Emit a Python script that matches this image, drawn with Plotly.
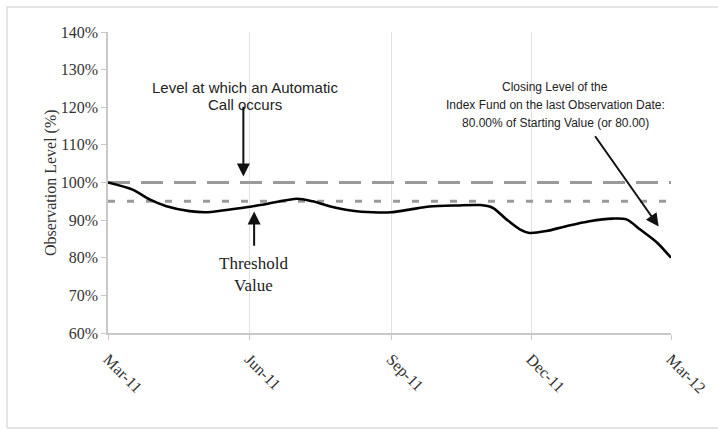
import plotly.graph_objects as go

# Index fund observation level, % of starting value
obs_dates = [
    "2011-03-01", "2011-03-17", "2011-03-28", "2011-04-08", "2011-04-23",
    "2011-05-04", "2011-05-13", "2011-05-30", "2011-06-12", "2011-07-02",
    "2011-07-12", "2011-07-23", "2011-08-07", "2011-08-20", "2011-09-01",
    "2011-09-13", "2011-09-26", "2011-10-14", "2011-10-29", "2011-11-06",
    "2011-11-15", "2011-11-24", "2011-11-30", "2011-12-11", "2011-12-24",
    "2012-01-08", "2012-01-23", "2012-02-01", "2012-02-10", "2012-02-21",
    "2012-03-01",
]
obs_level = [
    100.0, 98.1, 95.5, 93.7, 92.4,
    92.1, 92.5, 93.4, 94.3, 95.7,
    95.0, 93.7, 92.5, 92.1, 92.1,
    92.8, 93.6, 93.9, 94.0, 93.3,
    90.2, 87.5, 86.6, 87.1, 88.4,
    89.7, 90.4, 90.2, 87.5, 84.0,
    80.0,
]

autocall_level = 100
threshold_level = 95

tick_dates = ["2011-03-01", "2011-06-01", "2011-09-01", "2011-12-01", "2012-03-01"]
tick_labels = ["Mar-11", "Jun-11", "Sep-11", "Dec-11", "Mar-12"]
y_ticks = [60, 70, 80, 90, 100, 110, 120, 130, 140]
y_tick_labels = [f"{v}%" for v in y_ticks]

SANS = "Liberation Sans, Arial, sans-serif"
SERIF = "Liberation Serif, Times New Roman, serif"
GRID = "#e2e2e2"
AXIS = "#c8c8c8"
TEXT = "#222222"

W, H = 718, 431
ML, MR, MT, MB = 108, 47, 32, 98
PW, PH = W - ML - MR, H - MT - MB


def px_to_paper(px, py):
    return (px - ML) / PW, (H - MB - py) / PH


start, end = obs_dates[0], obs_dates[-1]

fig = go.Figure()
fig.add_trace(go.Scatter(
    x=[start, end], y=[autocall_level, autocall_level], mode="lines",
    line=dict(color="#9a9a9a", width=3, dash="22px,11px"), hoverinfo="skip"))
fig.add_trace(go.Scatter(
    x=[start, end], y=[threshold_level, threshold_level], mode="lines",
    line=dict(color="#9a9a9a", width=3, dash="7px,12px"), hoverinfo="skip"))
fig.add_trace(go.Scatter(
    x=obs_dates, y=obs_level, mode="lines",
    line=dict(color="#000000", width=2.6, shape="spline", smoothing=0.8)))

ann = []


def text_lines(lines, cx, ys, family, size):
    # one annotation per line so the line spacing can be set freely
    for line, py in zip(lines, ys):
        px_, py_ = px_to_paper(cx, py)
        ann.append(dict(x=px_, y=py_, xref="paper", yref="paper", showarrow=False,
                        text=line, font=dict(family=family, size=size, color=TEXT),
                        xanchor="center", yanchor="middle"))


text_lines(["Level at which an Automatic", "Call occurs"], 245, [87, 104], SANS, 15)
text_lines(["Threshold", "Value"], 253, [263, 285], SERIF, 17)
text_lines(["Closing Level of the",
            "Index Fund on the last Observation Date:",
            "80.00% of Starting Value (or 80.00)"], 555, [87, 105, 123], SANS, 12)

# arrows
arrow = dict(showarrow=True, text="", arrowhead=2, arrowsize=1.3, arrowwidth=2,
             arrowcolor="#111", xref="x", yref="y", axref="x", ayref="y", standoff=0)
ann.append(dict(arrow, x="2011-05-28", y=101.6, ax="2011-05-28", ay=120.5))
ann.append(dict(arrow, x="2011-06-04", y=92.3, ax="2011-06-04", ay=82.8))
ann.append(dict(arrow, x="2012-02-22", y=88.3, ax="2012-01-11", ay=112.7))

# y-axis title
tx, ty = px_to_paper(51, 183)
ann.append(dict(x=tx, y=ty, xref="paper", yref="paper", showarrow=False,
                text="Observation Level (%)", textangle=-90,
                font=dict(family=SERIF, size=16, color="#333"),
                xanchor="center", yanchor="middle"))

# outer frame: left, top and bottom edges (open on the right)
fl, ft = px_to_paper(7, 7)
fr, fb = px_to_paper(718, 428)
frame = dict(type="line", xref="paper", yref="paper",
             line=dict(color="#dcdcdc", width=1.5), layer="below")
shapes = [
    dict(frame, x0=fl, x1=fl, y0=fb, y1=ft),
    dict(frame, x0=fl, x1=fr, y0=ft, y1=ft),
    dict(frame, x0=fl, x1=fr, y0=fb, y1=fb),
]

fig.update_layout(
    width=W, height=H,
    margin=dict(l=ML, r=MR, t=MT, b=MB, autoexpand=False),
    paper_bgcolor="white", plot_bgcolor="white",
    showlegend=False,
    annotations=ann,
    shapes=shapes,
    xaxis=dict(
        type="date", range=[start, end],
        tickvals=tick_dates, ticktext=tick_labels, tickangle=45,
        tickfont=dict(family=SERIF, size=16, color="#333"),
        ticklabelstandoff=4,
        showgrid=True, gridcolor=GRID, gridwidth=1,
        showline=True, linecolor=AXIS, linewidth=1.5,
        ticks="outside", ticklen=5, tickcolor=AXIS, zeroline=False,
    ),
    yaxis=dict(
        range=[60, 140], tickvals=y_ticks, ticktext=y_tick_labels,
        tickfont=dict(family=SERIF, size=16, color="#333"),
        showgrid=False, showline=True, linecolor=AXIS, linewidth=1.5,
        ticks="outside", ticklen=5, tickcolor=AXIS, zeroline=False,
    ),
)

fig.write_html("out.html")
